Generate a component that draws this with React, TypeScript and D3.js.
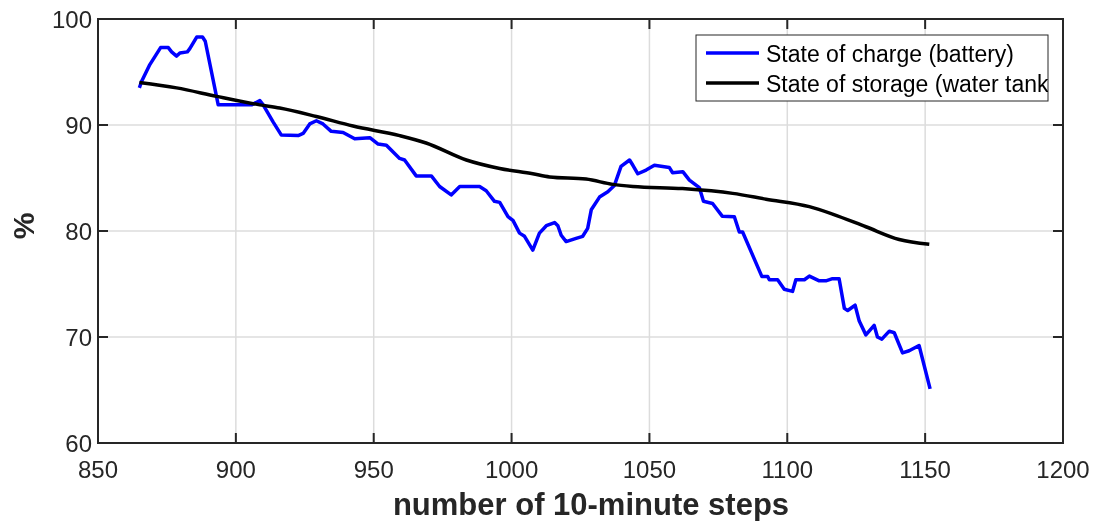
import React, { useEffect, useRef } from 'react';
import * as d3 from 'd3';

// State of charge of the battery (blue)
const socSteps = [
  865, 865.8, 868.8, 872.7, 875.5, 876.7, 878.5, 879.7, 882.4, 883.3, 885.8, 887.9, 888.9, 893.6,
  905.7, 908.7, 909.9, 913.5, 916.5, 922.6, 924.4, 926.8, 929.2, 931.6, 934.6, 938.9, 943.1,
  948.6, 951.6, 954.6, 959.4, 961.2, 965.4, 970.9, 973.9, 978.1, 981.2, 988.4, 990.8, 993.8,
  995.7, 998.7, 1000.5, 1002.9, 1004.7, 1007.7, 1010.1, 1012.6, 1015.6, 1016.8, 1018, 1019.8,
  1023.4, 1025.8, 1027.6, 1028.9, 1031.9, 1034.9, 1037.3, 1039.7, 1042.8, 1044, 1045.8, 1048.8,
  1051.8, 1057.2, 1058.4, 1062.1, 1064.5, 1068.1, 1069.6, 1072.9, 1076.4, 1080.8, 1082.6, 1083.8,
  1090.8, 1092.9, 1093.5, 1096.5, 1098.9, 1101.9, 1103.1, 1106.2, 1108, 1111.6, 1114, 1116.4,
  1118.8, 1120.7, 1121.9, 1124.6, 1126.1, 1128.5, 1131.5, 1132.7, 1134.3, 1137, 1138.8, 1141.8,
  1144.2, 1147.8, 1151.8,
];
const socValues = [
  93.5, 94.1, 95.7, 97.3, 97.3, 96.9, 96.5, 96.8, 96.9, 97.2, 98.3, 98.3, 97.9, 91.9,
  91.9, 92.3, 91.9, 90.3, 89.05, 89.0, 89.2, 90.1, 90.4, 90.1, 89.4, 89.3, 88.7,
  88.8, 88.2, 88.1, 86.85, 86.7, 85.2, 85.2, 84.2, 83.4, 84.2, 84.2, 83.8, 82.8,
  82.7, 81.35, 81.0, 79.8, 79.5, 78.2, 79.8, 80.5, 80.8, 80.5, 79.6, 79.0,
  79.3, 79.5, 80.25, 82.0, 83.2, 83.7, 84.3, 86.1, 86.7, 86.2, 85.4, 85.75,
  86.2, 86.0, 85.5, 85.6, 84.8, 84.1, 82.8, 82.6, 81.4, 81.35, 79.9, 79.9,
  75.7, 75.7, 75.4, 75.4, 74.5, 74.3, 75.4, 75.4, 75.75, 75.3, 75.3, 75.5,
  75.5, 72.7, 72.5, 73.0, 71.5, 70.2, 71.1, 70.0, 69.8, 70.55, 70.4, 68.5,
  68.7, 69.2, 65.1,
];

// State of storage of the water tank (black)
const tankSteps = [
  865, 878.5, 893, 908.7, 915.9, 929.2, 942.5, 959.4, 969, 983.6, 995.7, 1007.7, 1013.8,
  1027, 1036.7, 1044, 1062, 1080.2, 1092.3, 1108, 1116.4, 1128.5, 1140.6, 1151.5,
];
const tankValues = [
  94.0, 93.5, 92.7, 91.9, 91.6, 90.8, 89.9, 89.0, 88.3, 86.7, 85.9, 85.4, 85.1,
  84.9, 84.4, 84.2, 84.0, 83.55, 83.0, 82.3, 81.6, 80.4, 79.2, 78.75,
];

const xTicks = [850, 900, 950, 1000, 1050, 1100, 1150, 1200];
const yTicks = [60, 70, 80, 90, 100];
const legendLabels = ['State of charge (battery)', 'State of storage (water tank)'];

const Chart = () => {
  const chartRef = useRef<HTMLDivElement>(null);

  useEffect(() => {
    const width = 1103;
    const height = 521;
    const margin = { top: 19, right: 40, bottom: 78, left: 98 };
    const font = '"Liberation Sans", Arial, Helvetica, sans-serif';
    const ink = '#262626';

    d3.select(chartRef.current).select('svg').remove();

    const svg = d3
      .select(chartRef.current)
      .append('svg')
      .attr('width', width)
      .attr('height', height)
      .style('display', 'block')
      .style('font-family', font);

    const x = d3.scaleLinear().domain([850, 1200]).range([margin.left, width - margin.right]);
    const y = d3.scaleLinear().domain([60, 100]).range([height - margin.bottom, margin.top]);

    const [x0, x1] = x.range();
    const [y0, y1] = y.range(); // y0 bottom, y1 top

    // Grid
    svg
      .append('g')
      .selectAll('line')
      .data(xTicks.slice(1, -1))
      .enter()
      .append('line')
      .attr('x1', d => x(d))
      .attr('x2', d => x(d))
      .attr('y1', y1)
      .attr('y2', y0)
      .attr('stroke', '#dcdcdc')
      .attr('stroke-width', 1.5);
    svg
      .append('g')
      .selectAll('line')
      .data(yTicks.slice(1, -1))
      .enter()
      .append('line')
      .attr('x1', x0)
      .attr('x2', x1)
      .attr('y1', d => y(d))
      .attr('y2', d => y(d))
      .attr('stroke', '#dcdcdc')
      .attr('stroke-width', 1.5);

    // Box axes with inward ticks
    const tickLen = 10;
    const axes = svg.append('g').attr('stroke', ink).attr('stroke-width', 2);
    xTicks.forEach(t => {
      axes.append('line').attr('x1', x(t)).attr('x2', x(t)).attr('y1', y0).attr('y2', y0 - tickLen);
      axes.append('line').attr('x1', x(t)).attr('x2', x(t)).attr('y1', y1).attr('y2', y1 + tickLen);
    });
    yTicks.forEach(t => {
      axes.append('line').attr('x1', x0).attr('x2', x0 + tickLen).attr('y1', y(t)).attr('y2', y(t));
      axes.append('line').attr('x1', x1).attr('x2', x1 - tickLen).attr('y1', y(t)).attr('y2', y(t));
    });
    axes
      .append('rect')
      .attr('x', x0)
      .attr('y', y1)
      .attr('width', x1 - x0)
      .attr('height', y0 - y1)
      .attr('fill', 'none');

    // Tick labels
    svg
      .append('g')
      .selectAll('text')
      .data(xTicks)
      .enter()
      .append('text')
      .attr('x', d => x(d))
      .attr('y', y0 + 35)
      .attr('text-anchor', 'middle')
      .attr('font-size', 24)
      .attr('fill', ink)
      .text(d => d);
    svg
      .append('g')
      .selectAll('text')
      .data(yTicks)
      .enter()
      .append('text')
      .attr('x', x0 - 6)
      .attr('y', d => y(d) + 9)
      .attr('text-anchor', 'end')
      .attr('font-size', 24)
      .attr('fill', ink)
      .text(d => d);

    // Axis titles
    svg
      .append('text')
      .attr('x', 591)
      .attr('y', 515)
      .attr('text-anchor', 'middle')
      .attr('font-size', 31)
      .attr('font-weight', 'bold')
      .attr('fill', ink)
      .text('number of 10-minute steps');
    svg
      .append('text')
      .attr('transform', `translate(34, 226) rotate(-90)`)
      .attr('text-anchor', 'middle')
      .attr('font-size', 30)
      .attr('font-weight', 'bold')
      .attr('fill', ink)
      .text('%');

    // Lines
    const socData = socSteps.map((s, i) => [s, socValues[i]] as [number, number]);
    const tankData = tankSteps.map((s, i) => [s, tankValues[i]] as [number, number]);

    const lineLinear = d3
      .line<[number, number]>()
      .x(d => x(d[0]))
      .y(d => y(d[1]));
    const lineSmooth = d3
      .line<[number, number]>()
      .x(d => x(d[0]))
      .y(d => y(d[1]))
      .curve(d3.curveMonotoneX);

    svg
      .append('path')
      .datum(socData)
      .attr('d', lineLinear)
      .attr('fill', 'none')
      .attr('stroke', '#0000ff')
      .attr('stroke-width', 3.5)
      .attr('stroke-linejoin', 'round');
    svg
      .append('path')
      .datum(tankData)
      .attr('d', lineSmooth)
      .attr('fill', 'none')
      .attr('stroke', '#000000')
      .attr('stroke-width', 3.5)
      .attr('stroke-linejoin', 'round');

    // Legend (text clipped at the box edge, like the original)
    const lg = { x: 696, y: 35, w: 352, h: 66 };
    svg
      .append('clipPath')
      .attr('id', 'legend-clip')
      .append('rect')
      .attr('x', lg.x)
      .attr('y', lg.y)
      .attr('width', lg.w)
      .attr('height', lg.h);
    const legend = svg.append('g');
    legend
      .append('rect')
      .attr('x', lg.x)
      .attr('y', lg.y)
      .attr('width', lg.w)
      .attr('height', lg.h)
      .attr('fill', '#ffffff')
      .attr('stroke', '#262626')
      .attr('stroke-width', 1);
    const legendColors = ['#0000ff', '#000000'];
    legendLabels.forEach((label, i) => {
      const cy = 53 + i * 30;
      legend
        .append('line')
        .attr('x1', 706)
        .attr('x2', 759)
        .attr('y1', cy)
        .attr('y2', cy)
        .attr('stroke', legendColors[i])
        .attr('stroke-width', 3.5);
      legend
        .append('text')
        .attr('x', 766)
        .attr('y', cy + 9)
        .attr('font-size', 23)
        .attr('fill', '#000000')
        .attr('clip-path', 'url(#legend-clip)')
        .text(label);
    });
  }, []);

  return <div ref={chartRef}></div>;
};

export default function App() {
  return (
    <div style={{ position: 'fixed', left: 0, top: 0, width: 1103, height: 521, overflow: 'hidden' }}>
      <Chart />
    </div>
  );
}
